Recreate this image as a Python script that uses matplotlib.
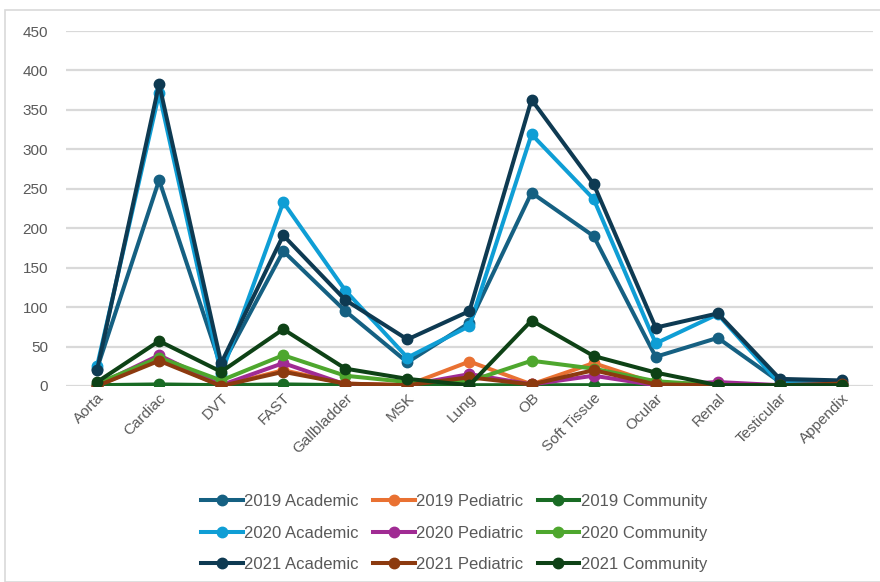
import numpy as np
import matplotlib
matplotlib.use("Agg")
import matplotlib.pyplot as plt
from matplotlib.patches import Rectangle

plt.rcParams['font.family'] = ['Liberation Sans', 'DejaVu Sans']

categories = ["Aorta", "Cardiac", "DVT", "FAST", "Gallbladder", "MSK", "Lung",
              "OB", "Soft Tissue", "Ocular", "Renal", "Testicular", "Appendix"]

academic_2019 = [22, 261, 24, 171, 95, 30, 80, 245, 190, 37, 61, 5, 5]
pediatric_2019 = [0, 34, 0, 20, 3, 1, 31, 2, 29, 3, 1, 1, 4]
community_2019 = [1, 2, 1, 2, 1, 1, 1, 1, 1, 1, 1, 1, 1]
academic_2020 = [25, 371, 15, 233, 121, 36, 76, 319, 237, 54, 91, 3, 3]
pediatric_2020 = [1, 39, 1, 29, 2, 1, 15, 2, 13, 1, 5, 1, 2]
community_2020 = [3, 36, 7, 39, 13, 5, 6, 32, 22, 6, 1, 1, 1]
academic_2021 = [20, 383, 29, 191, 109, 59, 95, 363, 256, 74, 92, 9, 7]
pediatric_2021 = [0, 32, 0, 18, 3, 1, 11, 2, 20, 2, 1, 1, 3]
community_2021 = [5, 57, 18, 72, 22, 9, 1, 83, 38, 17, 1, 1, 1]

series = [
    ("2019 Academic", academic_2019, "#156082"),
    ("2019 Pediatric", pediatric_2019, "#E97132"),
    ("2019 Community", community_2019, "#196B24"),
    ("2020 Academic", academic_2020, "#0F9ED5"),
    ("2020 Pediatric", pediatric_2020, "#A02B93"),
    ("2020 Community", community_2020, "#4EA72E"),
    ("2021 Academic", academic_2021, "#0E3A52"),
    ("2021 Pediatric", pediatric_2021, "#8C3A0F"),
    ("2021 Community", community_2021, "#0E4216"),
]

fig = plt.figure(figsize=(8.8, 5.82), dpi=100)
ax = fig.add_axes([0.075, 0.3368, 0.917, 0.6099])

x = np.arange(len(categories))
handles = []
for name, vals, col in series:
    h, = ax.plot(x, vals, color=col, lw=2.9, marker='o', markersize=7.5,
                 label=name, solid_joinstyle='round')
    handles.append(h)

ax.set_ylim(0, 450)
ax.set_xlim(-0.5, len(categories) - 0.5)
ax.set_yticks(np.arange(0, 451, 50))
ax.yaxis.grid(True, color='#D9D9D9', lw=1.6)
ax.set_axisbelow(True)
for s in ax.spines.values():
    s.set_visible(False)
ax.tick_params(axis='both', length=0, colors='#595959', labelsize=11)
ax.tick_params(axis='y', pad=13)
ax.set_xticks(x)
ax.set_xticklabels(categories, rotation=45, ha='right', rotation_mode='anchor')

# legend filled column by column, so reorder to read row-wise
order = [0, 3, 6, 1, 4, 7, 2, 5, 8]
fig.legend([handles[i] for i in order], [series[i][0] for i in order],
           loc='lower center', bbox_to_anchor=(0.516, -0.009), ncol=3,
           frameon=False, fontsize=12, labelcolor='#595959',
           handlelength=2.5, handletextpad=0.1, columnspacing=0.85,
           labelspacing=1.0)

fig.patches.append(Rectangle((0.006, 0.0), 1.2, 0.983, transform=fig.transFigure,
                             fill=False, edgecolor='#D9D9D9', lw=1.2))

fig.savefig("out.png", dpi=100)
